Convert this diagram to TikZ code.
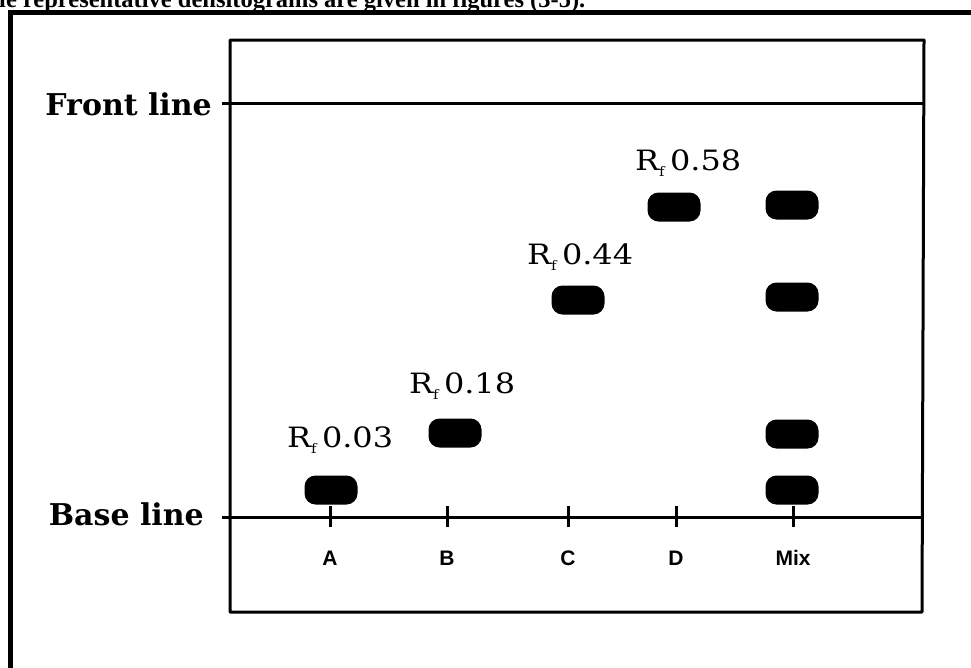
\documentclass[tikz,border=0pt]{standalone}
\usepackage{fontspec}
\setmainfont{DejaVu Serif}
\newfontfamily\capfont{Liberation Serif}
\newfontfamily\lanefont{Liberation Sans}
\newcommand\rfval[1]{\scalebox{1.14}[1]{R\raisebox{-0.45ex}{\fontsize{13}{13}\selectfont f}\,#1}}
\begin{document}
\begin{tikzpicture}[x=1pt,y=-1pt,
  frame/.style={line width=5pt},
  plate/.style={line width=3pt},
  tick/.style={line width=3pt},
  spot/.style={fill=black, rounded corners=11pt, minimum width=53pt,
               minimum height=29pt, inner sep=0pt},
  rflabel/.style={anchor=west, inner sep=0pt, font=\fontsize{28}{32}\selectfont},
  sidelabel/.style={anchor=east, inner sep=0pt, font=\bfseries\fontsize{30}{34}\selectfont},
  lane/.style={inner sep=0pt, font=\lanefont\bfseries\fontsize{21}{24}\selectfont}]
  \useasboundingbox (0,0) rectangle (971,667);
  \fill[white] (0,0) rectangle (971,667);

  % running text of the page above the figure
  \node[anchor=base west, inner sep=0pt,
        font=\capfont\bfseries\fontsize{24.5}{28}\selectfont] (cap) at (-1,7)
        {le representative densitograms are given in figures (3-5).};

  % figure frame
  \draw[frame] (10,690) -- (10,12) -- (990,12);

  % TLC plate
  \coordinate (pTL) at (230,40);
  \coordinate (pTR) at (924,40);
  \coordinate (pBR) at (922,612);
  \coordinate (pBL) at (230,612);
  \draw[plate, line join=round] (pTL) -- (pTR) -- (pBR) -- (pBL) -- cycle;

  % front and base lines
  \coordinate (f0) at (222,103);
  \coordinate (f1) at (924,103);
  \coordinate (b0) at (222,517);
  \coordinate (b1) at (924,517);
  \draw[plate] (f0) -- (f1);
  \draw[plate] (b0) -- (b1);
  \node[sidelabel] (front) at (212,104) {Front line};
  \node[sidelabel] (base) at (204,514) {Base line};

  % application points
  \foreach \n/\x/\t in {A/330/A, B/447/B, C/568/C, D/676/D, M/793/Mix}{
    \coordinate (t\n) at (\x,517);
    \draw[tick] ([yshift=-10pt]t\n) -- ([yshift=11pt]t\n);
    \node[lane] (l\n) at (\x,558) {\t};
  }

  % spots of the single standards
  \node[spot] (sA) at (331,490) {};
  \node[spot] (sB) at (455,433) {};
  \node[spot] (sC) at (578,300) {};
  \node[spot] (sD) at (674,207) {};

  % spots of the mixture
  \node[spot] (m1) at (792,205) {};
  \node[spot] (m2) at (792,297) {};
  \node[spot] (m3) at (792,434) {};
  \node[spot] (m4) at (792,490) {};

  % Rf values
  \node[rflabel] (rA) at (287,440) {\rfval{0.03}};
  \node[rflabel] (rB) at (409,386) {\rfval{0.18}};
  \node[rflabel] (rC) at (527,257) {\rfval{0.44}};
  \node[rflabel] (rD) at (635,163) {\rfval{0.58}};
\end{tikzpicture}
\end{document}
